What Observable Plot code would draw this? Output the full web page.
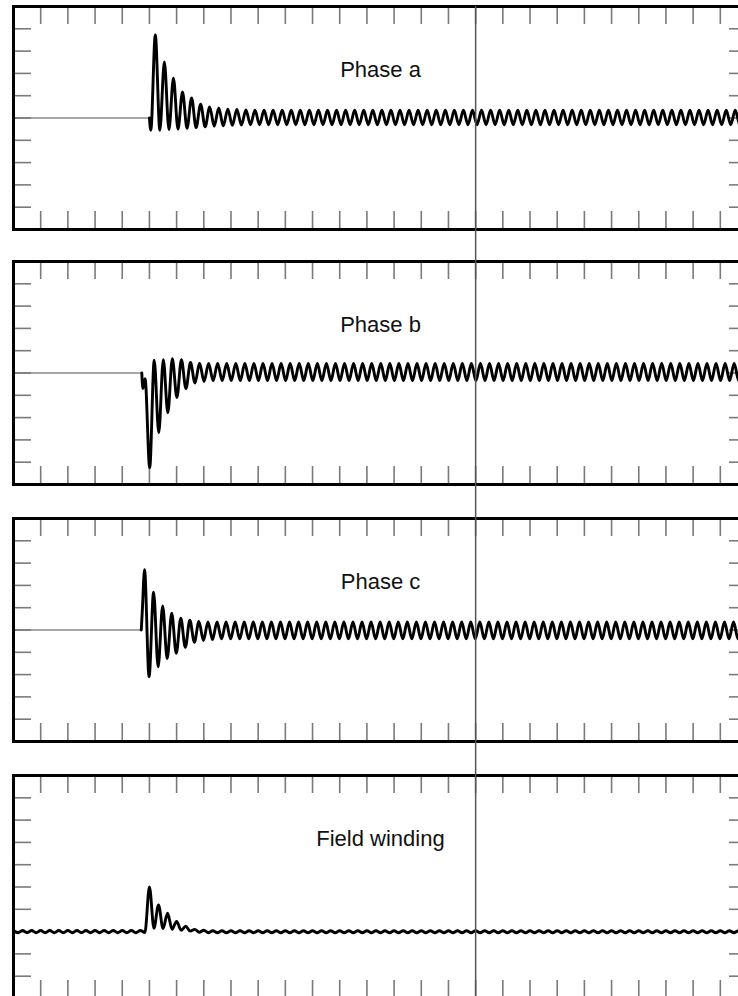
<!DOCTYPE html>
<html>
<head>
<meta charset="utf-8">
<script src="https://cdn.jsdelivr.net/npm/d3@7"></script>
<script src="https://cdn.jsdelivr.net/npm/@observablehq/plot@0.6"></script>
<style>
  html, body { margin: 0; padding: 0; background: #fff; }
  #wrap { position: relative; width: 738px; height: 996px; overflow: hidden; background: #fff; }
  #wrap svg { position: absolute; left: 0; max-width: none !important; }
  #overlay { pointer-events: none; }
</style>
</head>
<body>
<div id="wrap"></div>
<script>
// ---------- data ----------
// time axis: 0..27 units, one tick per unit; y axis per panel: 0..10 units
const xTicks = [1,2,3,4,5,6,7,8,9,10,11,12,13,14,15,16,17,18,19,20,21,22,23,24,25,26];
const yTicks = [1,2,3,4,5,6,7,8,9];
const markerTime = 17;

const labels = ["Phase a", "Phase b", "Phase c", "Field winding"];
const baselines = [5, 5, 5, 3];

// onset points (time, value) before the regular oscillation starts
const onsetA_t = [5.0];  const onsetA_v = [0];
const onsetB_t = [4.72, 4.76, 4.84]; const onsetB_v = [0, -0.7, -0.25];
const onsetC_t = [4.70, 4.74]; const onsetC_v = [0, 0.9];
const onsetF_t = []; const onsetF_v = [];

// successive extrema (half-cycle samples, 1/6 unit apart) starting at the given time
const halfCycle = 1 / 6;
const startA = 5.05, startB = 5.01, startC = 4.82, startF = 0;

const phaseA = [-0.55, 3.72, -0.55, 2.51, -0.52, 1.79, -0.5, 1.17, -0.46, 0.9, -0.43, 0.62, -0.4, 0.5, -0.37, 0.45, -0.35, 0.4, -0.33, 0.38, -0.32, 0.36,
  -0.3, 0.35, -0.3, 0.35, -0.3, 0.35, -0.3, 0.35, -0.3, 0.35, -0.3, 0.35, -0.3, 0.35, -0.3, 0.35, -0.3, 0.35, -0.3, 0.35,
  -0.3, 0.35, -0.3, 0.35, -0.3, 0.35, -0.3, 0.35, -0.3, 0.35, -0.3, 0.35, -0.3, 0.35, -0.3, 0.35, -0.3, 0.35, -0.3, 0.35,
  -0.3, 0.35, -0.3, 0.35, -0.3, 0.35, -0.3, 0.35, -0.3, 0.35, -0.3, 0.35, -0.3, 0.35, -0.3, 0.35, -0.3, 0.35, -0.3, 0.35,
  -0.3, 0.35, -0.3, 0.35, -0.3, 0.35, -0.3, 0.35, -0.3, 0.35, -0.3, 0.35, -0.3, 0.35, -0.3, 0.35, -0.3, 0.35, -0.3, 0.35,
  -0.3, 0.35, -0.3, 0.35, -0.3, 0.35, -0.3, 0.35, -0.3, 0.35, -0.3, 0.35, -0.3, 0.35, -0.3, 0.35, -0.3, 0.35, -0.3, 0.35,
  -0.3, 0.35, -0.3, 0.35, -0.3, 0.35, -0.3, 0.35, -0.3, 0.35, -0.3];

const phaseB = [-4.25, 0.57, -2.68, 0.6, -1.78, 0.64, -1.1, 0.6, -0.7, 0.47, -0.45, 0.44, -0.38,
  0.43, -0.34, 0.43, -0.34, 0.43, -0.34, 0.43, -0.34, 0.43, -0.34, 0.43, -0.34, 0.43, -0.34, 0.43, -0.34, 0.43, -0.34, 0.43, -0.34,
  0.43, -0.34, 0.43, -0.34, 0.43, -0.34, 0.43, -0.34, 0.43, -0.34, 0.43, -0.34, 0.43, -0.34, 0.43, -0.34, 0.43, -0.34, 0.43, -0.34,
  0.43, -0.34, 0.43, -0.34, 0.43, -0.34, 0.43, -0.34, 0.43, -0.34, 0.43, -0.34, 0.43, -0.34, 0.43, -0.34, 0.43, -0.34, 0.43, -0.34,
  0.43, -0.34, 0.43, -0.34, 0.43, -0.34, 0.43, -0.34, 0.43, -0.34, 0.43, -0.34, 0.43, -0.34, 0.43, -0.34, 0.43, -0.34, 0.43, -0.34,
  0.43, -0.34, 0.43, -0.34, 0.43, -0.34, 0.43, -0.34, 0.43, -0.34, 0.43, -0.34, 0.43, -0.34, 0.43, -0.34, 0.43, -0.34, 0.43, -0.34,
  0.43, -0.34, 0.43, -0.34, 0.43, -0.34, 0.43, -0.34, 0.43, -0.34, 0.43, -0.34, 0.43, -0.34, 0.43, -0.34, 0.43, -0.34, 0.43, -0.34,
  0.43];

const phaseC = [2.7, -2.1, 1.7, -1.65, 1.08, -1.28, 0.75, -1.05, 0.53, -0.78, 0.44, -0.55, 0.38, -0.47, 0.36, -0.43,
  0.36, -0.4, 0.36, -0.4, 0.36, -0.4, 0.36, -0.4, 0.36, -0.4, 0.36, -0.4, 0.36, -0.4, 0.36, -0.4, 0.36, -0.4, 0.36, -0.4,
  0.36, -0.4, 0.36, -0.4, 0.36, -0.4, 0.36, -0.4, 0.36, -0.4, 0.36, -0.4, 0.36, -0.4, 0.36, -0.4, 0.36, -0.4, 0.36, -0.4,
  0.36, -0.4, 0.36, -0.4, 0.36, -0.4, 0.36, -0.4, 0.36, -0.4, 0.36, -0.4, 0.36, -0.4, 0.36, -0.4, 0.36, -0.4, 0.36, -0.4,
  0.36, -0.4, 0.36, -0.4, 0.36, -0.4, 0.36, -0.4, 0.36, -0.4, 0.36, -0.4, 0.36, -0.4, 0.36, -0.4, 0.36, -0.4, 0.36, -0.4,
  0.36, -0.4, 0.36, -0.4, 0.36, -0.4, 0.36, -0.4, 0.36, -0.4, 0.36, -0.4, 0.36, -0.4, 0.36, -0.4, 0.36, -0.4, 0.36, -0.4,
  0.36, -0.4, 0.36, -0.4, 0.36, -0.4, 0.36, -0.4, 0.36, -0.4, 0.36, -0.4, 0.36, -0.4, 0.36, -0.4, 0.36, -0.4,
  0.36];

const field = [0.05, -0.05, 0.05, -0.05, 0.05, -0.05, 0.05, -0.05, 0.05, -0.05, 0.05, -0.05, 0.05, -0.05,
  0.05, -0.05, 0.05, -0.05, 0.05, -0.05, 0.05, -0.05, 0.05, -0.05, 0.05, -0.05, 0.05, -0.05, 0.05,
  -0.04, 2.0, 0.15, 1.2, 0.14, 0.82, 0.1, 0.46, 0.06, 0.24, 0.02, 0.1, -0.03, 0.06,
  -0.05, 0.04, -0.05, 0.04, -0.05, 0.04, -0.05, 0.04, -0.05, 0.04, -0.05, 0.04, -0.05, 0.04, -0.05, 0.04, -0.05, 0.04, -0.05, 0.04,
  -0.05, 0.04, -0.05, 0.04, -0.05, 0.04, -0.05, 0.04, -0.05, 0.04, -0.05, 0.04, -0.05, 0.04, -0.05, 0.04, -0.05, 0.04, -0.05, 0.04,
  -0.05, 0.04, -0.05, 0.04, -0.05, 0.04, -0.05, 0.04, -0.05, 0.04, -0.05, 0.04, -0.05, 0.04, -0.05, 0.04, -0.05, 0.04, -0.05, 0.04,
  -0.05, 0.04, -0.05, 0.04, -0.05, 0.04, -0.05, 0.04, -0.05, 0.04, -0.05, 0.04, -0.05, 0.04, -0.05, 0.04, -0.05, 0.04, -0.05, 0.04,
  -0.05, 0.04, -0.05, 0.04, -0.05, 0.04, -0.05, 0.04, -0.05, 0.04, -0.05, 0.04, -0.05, 0.04, -0.05, 0.04, -0.05, 0.04, -0.05, 0.04,
  -0.05, 0.04, -0.05, 0.04, -0.05, 0.04, -0.05, 0.04, -0.05, 0.04, -0.05, 0.04, -0.05, 0.04, -0.05, 0.04, -0.05, 0.04, -0.05, 0.04,
  -0.05];

// ---------- layout ----------
const W = 760, mL = 13, mR = 13;          // frame spans x 13..747 (right edge is cut off by the 738px page)
const panelTops = [6, 261, 518, 775];
const panelH = 223;
const pad = 4;
const tickLen = 18;                        // px, inward ticks

const series = [
  {onT: onsetA_t, onV: onsetA_v, start: startA, vals: phaseA},
  {onT: onsetB_t, onV: onsetB_v, start: startB, vals: phaseB},
  {onT: onsetC_t, onV: onsetC_v, start: startC, vals: phaseC},
  {onT: onsetF_t, onV: onsetF_v, start: startF, vals: field}
];

const wrap = document.getElementById("wrap");
const xDom = [0, 27];
const kx = (xDom[1] - xDom[0]) / (W - mL - mR);
const ky = 10 / panelH;
const svgStyle = {background: "transparent", overflow: "visible", maxWidth: "none", position: "absolute", left: "0px"};

series.forEach((s, i) => {
  const base = baselines[i];
  const pts = s.onT.map((t, j) => ({t, v: base + s.onV[j]}))
    .concat(s.vals.map((v, j) => ({t: s.start + j * halfCycle, v: base + v})));
  const marks = [];
  if (s.onT.length) {
    marks.push(Plot.ruleY([base], {x1: 0, x2: s.onT[0], stroke: "#8a8a8a", strokeWidth: 1.3}));
  }
  marks.push(
    Plot.ruleX(xTicks, {y1: 10, y2: 10 - tickLen * ky, stroke: "#7a7a7a", strokeWidth: 1.6}),
    Plot.ruleX(xTicks, {y1: 0, y2: tickLen * ky, stroke: "#7a7a7a", strokeWidth: 1.6}),
    Plot.ruleY(yTicks, {x1: 0, x2: tickLen * kx, stroke: "#7a7a7a", strokeWidth: 1.6}),
    Plot.ruleY(yTicks, {x1: 27, x2: 27 - tickLen * kx, stroke: "#7a7a7a", strokeWidth: 1.6}),
    Plot.line(pts, {x: "t", y: "v", curve: "monotone-x", stroke: "#000", strokeWidth: 2.9, clip: true}),
    Plot.text([labels[i]], {x: 13.5, y: 7.15, text: d => d, fontSize: 22, fill: "#111",
      fontFamily: "Liberation Sans, Arial, Helvetica, sans-serif", textAnchor: "middle", lineAnchor: "middle"}),
    Plot.frame({stroke: "#000", strokeWidth: 3})
  );
  const svg = Plot.plot({
    width: W, height: panelH + 2 * pad,
    marginLeft: mL, marginRight: mR, marginTop: pad, marginBottom: pad,
    x: {domain: xDom, axis: null},
    y: {domain: [0, 10], axis: null},
    style: svgStyle,
    marks
  });
  svg.style.top = (panelTops[i] - pad) + "px";
  svg.style.width = W + "px";
  svg.style.height = (panelH + 2 * pad) + "px";
  wrap.appendChild(svg);
});

// vertical marker line crossing all four panels
const overlay = Plot.plot({
  width: W, height: 996,
  marginLeft: mL, marginRight: mR, marginTop: panelTops[0], marginBottom: 0,
  x: {domain: xDom, axis: null},
  y: {domain: [0, 1], axis: null},
  style: svgStyle,
  marks: [Plot.ruleX([markerTime], {stroke: "#555", strokeWidth: 1.5})]
});
overlay.id = "overlay";
overlay.style.top = "0px";
overlay.style.width = W + "px";
overlay.style.height = "996px";
wrap.appendChild(overlay);
</script>
</body>
</html>
